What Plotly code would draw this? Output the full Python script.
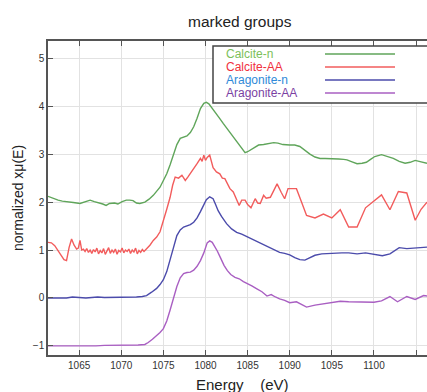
import plotly.graph_objects as go

# ---------------- data ----------------
calcite_n_x = [1061.3, 1061.8, 1062.5, 1063.0, 1063.7, 1064.3, 1065.1, 1065.6, 1066.0, 1066.3, 1066.8, 1067.3,
               1067.8, 1068.2, 1068.6, 1069.2, 1069.6, 1070.1, 1070.6, 1071.0, 1071.4, 1071.8, 1072.2, 1072.8,
               1073.3, 1073.8, 1074.2, 1074.6, 1075.0, 1075.4, 1075.8, 1076.2, 1076.6, 1077.0, 1077.4, 1077.8,
               1078.2, 1078.6, 1079.0, 1079.4, 1079.8, 1080.1, 1080.4, 1080.9, 1081.3, 1081.7, 1082.1, 1082.6,
               1083.1, 1083.5, 1083.9, 1084.4, 1084.7, 1085.0, 1085.3, 1085.8, 1086.3, 1086.9, 1087.5, 1088.1,
               1088.6, 1089.2, 1090.0, 1090.6, 1091.2, 1091.8, 1092.4, 1093.0, 1093.6, 1094.2, 1095.0, 1095.8,
               1096.4, 1096.8, 1097.4, 1098.0, 1098.6, 1099.1, 1099.6, 1100.1, 1100.9, 1101.6, 1102.3, 1103.0,
               1103.7, 1104.3, 1104.9, 1105.6, 1106.3]
calcite_n_y = [2.12, 2.08, 2.04, 2.02, 2.01, 1.99, 1.97, 2.00, 2.02, 2.04, 2.01, 1.99,
               1.96, 1.93, 1.97, 1.98, 1.96, 2.01, 2.04, 2.04, 2.03, 1.98, 1.97, 2.00,
               2.06, 2.14, 2.22, 2.31, 2.45, 2.59, 2.78, 3.00, 3.20, 3.33, 3.36, 3.38,
               3.45, 3.57, 3.75, 3.95, 4.06, 4.08, 4.05, 3.92, 3.82, 3.74, 3.64, 3.52,
               3.40, 3.30, 3.22, 3.08, 3.03, 3.05, 3.08, 3.14, 3.19, 3.20, 3.22, 3.24,
               3.23, 3.20, 3.19, 3.19, 3.16, 3.08, 3.00, 2.94, 2.91, 2.91, 2.91, 2.90,
               2.89, 2.88, 2.84, 2.80, 2.81, 2.83, 2.89, 2.95, 2.99, 2.95, 2.91, 2.85,
               2.81, 2.83, 2.87, 2.84, 2.81]

calcite_aa_x = [1061.3, 1061.7, 1062.1, 1062.5, 1062.9, 1063.2, 1063.5, 1063.8, 1064.1, 1064.4, 1064.7, 1064.9,
                1065.1, 1065.3, 1065.5, 1065.7, 1065.9, 1066.1, 1066.3, 1066.5, 1066.7, 1066.9, 1067.1, 1067.3,
                1067.5, 1067.7, 1067.9, 1068.1, 1068.3, 1068.5, 1068.7, 1068.9, 1069.1, 1069.3, 1069.5, 1069.7,
                1069.9, 1070.1, 1070.3, 1070.5, 1070.7, 1070.9, 1071.1, 1071.3, 1071.5, 1071.7, 1071.9, 1072.1,
                1072.3, 1072.5, 1072.7, 1073.0, 1073.4, 1073.8, 1074.2, 1074.6, 1075.0, 1075.4, 1075.8, 1076.1,
                1076.4, 1076.8, 1077.2, 1077.6, 1077.9, 1078.2, 1078.6, 1079.0, 1079.4, 1079.6, 1079.8, 1080.0,
                1080.2, 1080.5, 1080.9, 1081.3, 1081.7, 1082.0, 1082.3, 1082.6, 1082.9, 1083.3, 1083.6, 1084.0,
                1084.3, 1084.7, 1085.0, 1085.4, 1085.9, 1086.2, 1086.5, 1086.9, 1087.2, 1087.7, 1088.1, 1088.5,
                1089.0, 1089.4, 1089.8, 1090.8, 1091.4, 1092.0, 1093.0, 1094.0, 1095.0, 1096.0, 1097.0, 1098.0,
                1099.0, 1100.0, 1100.9, 1101.9, 1102.9, 1103.9, 1104.9, 1105.6, 1106.3]
calcite_aa_y = [1.16, 1.15, 1.09, 0.97, 0.88, 0.80, 0.78, 1.05, 1.23, 1.10, 1.02, 1.04,
                1.20, 1.00, 1.02, 0.97, 1.03, 0.95, 1.00, 0.93, 1.01, 0.96, 1.04, 0.92,
                0.99, 0.94, 1.03, 0.91, 0.98, 1.05, 0.93, 1.00, 0.95, 1.02, 0.91, 0.99,
                0.96, 1.04, 0.94, 1.00, 0.97, 1.02, 0.93, 1.00, 0.96, 1.04, 0.92, 0.99,
                0.95, 1.01, 0.97, 1.02, 1.10, 1.20, 1.27, 1.38, 1.60, 1.85, 2.10, 2.35,
                2.52, 2.50, 2.56, 2.45, 2.52, 2.59, 2.70, 2.80, 2.91, 2.85, 2.98, 2.87,
                2.93, 2.98, 2.72, 2.63, 2.59, 2.50, 2.49, 2.38, 2.28, 2.21, 2.08, 1.93,
                2.04, 2.04, 1.95, 1.88, 2.07, 1.98, 1.97, 2.14, 2.08, 2.10, 2.24, 2.38,
                2.20, 2.07, 2.28, 2.28, 2.00, 1.72, 1.67, 1.75, 1.67, 1.84, 1.48, 1.48,
                1.88, 2.02, 2.15, 1.84, 2.22, 2.19, 1.62, 1.85, 2.00]

aragonite_n_x = [1061.3, 1062.0, 1062.8, 1063.5, 1064.2, 1065.0, 1065.8, 1066.5, 1067.2, 1068.0, 1068.8, 1069.5,
                 1070.2, 1071.0, 1071.8, 1072.5, 1073.0, 1073.6, 1074.2, 1074.6, 1075.0, 1075.4, 1075.8, 1076.2,
                 1076.6, 1077.0, 1077.4, 1077.8, 1078.2, 1078.6, 1079.0, 1079.4, 1079.8, 1080.1, 1080.5, 1080.9,
                 1081.2, 1081.5, 1081.9, 1082.5, 1083.1, 1083.7, 1084.3, 1084.9, 1085.7, 1086.5, 1087.1, 1087.7,
                 1088.3, 1088.8, 1089.4, 1090.0, 1090.6, 1091.2, 1091.8, 1092.4, 1093.0, 1093.8, 1094.6, 1095.4,
                 1096.2, 1097.0, 1098.0, 1099.0, 1100.0, 1101.0, 1101.9, 1103.0, 1103.9, 1105.0, 1106.3]
aragonite_n_y = [0.00, 0.00, -0.01, 0.00, 0.02, 0.01, 0.00, 0.01, 0.02, 0.01, 0.01, 0.02,
                 0.02, 0.02, 0.02, 0.03, 0.05, 0.12, 0.20, 0.28, 0.38, 0.55, 0.78, 1.05,
                 1.30, 1.42, 1.48, 1.50, 1.53, 1.58, 1.67, 1.80, 1.96, 2.05, 2.11, 2.07,
                 1.95, 1.82, 1.70, 1.55, 1.44, 1.37, 1.33, 1.28, 1.20, 1.13, 1.08, 1.03,
                 0.98, 0.95, 0.93, 0.90, 0.84, 0.80, 0.79, 0.84, 0.89, 0.92, 0.93, 0.93,
                 0.94, 0.94, 0.92, 0.94, 0.91, 0.88, 0.92, 1.05, 1.03, 1.04, 1.06]

aragonite_aa_x = [1061.3, 1062.0, 1063.0, 1064.0, 1065.0, 1066.0, 1067.0, 1068.0, 1069.0, 1070.0, 1071.0, 1072.0,
                  1072.8, 1073.2, 1073.7, 1074.2, 1074.6, 1075.0, 1075.4, 1075.8, 1076.2, 1076.6, 1077.0, 1077.4,
                  1077.8, 1078.2, 1078.6, 1079.0, 1079.4, 1079.8, 1080.2, 1080.5, 1080.8, 1081.1, 1081.4, 1081.8,
                  1082.2, 1082.6, 1083.0, 1083.5, 1084.0, 1084.5, 1084.9, 1085.5, 1086.1, 1086.7, 1087.3, 1087.8,
                  1088.3, 1088.8, 1089.4, 1090.0, 1090.8, 1091.4, 1092.0, 1093.0, 1094.0, 1095.0, 1096.0, 1097.0,
                  1098.0, 1099.0, 1100.0, 1100.9, 1101.9, 1102.8, 1103.9, 1104.9, 1105.9, 1106.3]
aragonite_aa_y = [-1.00, -1.00, -1.00, -1.01, -1.00, -1.00, -1.00, -0.99, -0.99, -0.99, -0.99, -0.98,
                  -0.97, -0.93, -0.86, -0.79, -0.72, -0.64, -0.48, -0.25, 0.02, 0.24, 0.42, 0.51,
                  0.53, 0.54, 0.58, 0.66, 0.78, 0.94, 1.15, 1.19, 1.16, 1.08, 0.98, 0.83,
                  0.68, 0.57, 0.49, 0.43, 0.40, 0.34, 0.31, 0.25, 0.19, 0.13, 0.04, 0.07,
                  0.02, -0.02, -0.05, -0.10, -0.08, -0.14, -0.19, -0.15, -0.12, -0.10, -0.07, -0.08,
                  -0.08, -0.09, -0.09, -0.06, 0.03, -0.08, 0.03, -0.03, 0.05, 0.04]

series_names = ["Calcite-n", "Calcite-AA", "Aragonite-n", "Aragonite-AA"]
x_ticks = [1065, 1070, 1075, 1080, 1085, 1090, 1095, 1100, 1105]
y_ticks = [-1, 0, 1, 2, 3, 4, 5]

# ---------------- style ----------------
W, H = 427, 392
ML, MR, MT, MB = 48, 0, 41, 37
line_colors = ["#5fa55a", "#f25c5c", "#4b4bab", "#a95fc2"]
text_colors = ["#7cbf5a", "#f0303c", "#2f8ad8", "#7b3fa3"]
SANS = "Liberation Sans, Arial, sans-serif"


def pxx(p):
    return (p - ML) / (W - ML - MR)


def pxy(p):
    return (H - MB - p) / (H - MT - MB)


fig = go.Figure()
all_x = [calcite_n_x, calcite_aa_x, aragonite_n_x, aragonite_aa_x]
all_y = [calcite_n_y, calcite_aa_y, aragonite_n_y, aragonite_aa_y]
for name, xs, ys, c in zip(series_names, all_x, all_y, line_colors):
    fig.add_trace(go.Scatter(x=xs, y=ys, mode="lines", name=name,
                             line=dict(color=c, width=1.4), showlegend=False))

axis_font = dict(family=SANS, size=10, color="#333333")
fig.update_xaxes(range=[1061.3, 1106.3], tickvals=x_ticks, ticks="inside", ticklen=5,
                 tickcolor="#555555", showline=True, linecolor="#555555", linewidth=1.5,
                 mirror="ticks", showgrid=True, gridcolor="#e2e2e2", gridwidth=1,
                 zeroline=False, tickfont=axis_font)
fig.update_yaxes(range=[-1.19, 5.36], tickvals=y_ticks, ticks="inside", ticklen=5,
                 tickcolor="#555555", showline=True, linecolor="#555555", linewidth=1.5,
                 mirror=False, showgrid=True, gridcolor="#e2e2e2", gridwidth=1,
                 zeroline=False, tickfont=axis_font)

annotations = [
    dict(text="marked groups", x=pxx(240), y=pxy(22), xref="paper", yref="paper",
         showarrow=False, font=dict(family=SANS, size=15.5, color="#222222"),
         xanchor="center", yanchor="middle"),
    dict(text="Energy    (eV)", x=pxx(242), y=pxy(384), xref="paper", yref="paper",
         showarrow=False, font=dict(family=SANS, size=15, color="#222222"),
         xanchor="center", yanchor="middle"),
    dict(text="normalized xμ(E)", x=pxx(18), y=pxy(198), xref="paper", yref="paper",
         showarrow=False, textangle=-90,
         font=dict(family=SANS, size=14, color="#222222"),
         xanchor="center", yanchor="middle"),
]

shapes = [dict(type="rect", xref="paper", yref="paper", x0=pxx(213), x1=pxx(445),
               y0=pxy(103), y1=pxy(46), line=dict(color="#444444", width=1.5),
               fillcolor="white", layer="above")]

legend_rows = [54, 67, 80, 93]
for name, tc, lc, ry in zip(series_names, text_colors, line_colors, legend_rows):
    annotations.append(dict(text=name, x=pxx(225), y=pxy(ry), xref="paper", yref="paper",
                            showarrow=False, xanchor="left", yanchor="middle", borderpad=0,
                            font=dict(family=SANS, size=12, color=tc)))
    shapes.append(dict(type="line", xref="paper", yref="paper", x0=pxx(325), x1=pxx(395),
                       y0=pxy(ry), y1=pxy(ry), line=dict(color=lc, width=1.5), layer="above"))

fig.update_layout(width=W, height=H, autosize=False, margin=dict(l=ML, r=MR, t=MT, b=MB),
                  plot_bgcolor="white", paper_bgcolor="white",
                  annotations=annotations, shapes=shapes, showlegend=False)

fig.write_html("out.html", config={"responsive": False, "displayModeBar": False},
               post_script="document.body.style.margin='0';document.body.style.overflow='hidden';")
